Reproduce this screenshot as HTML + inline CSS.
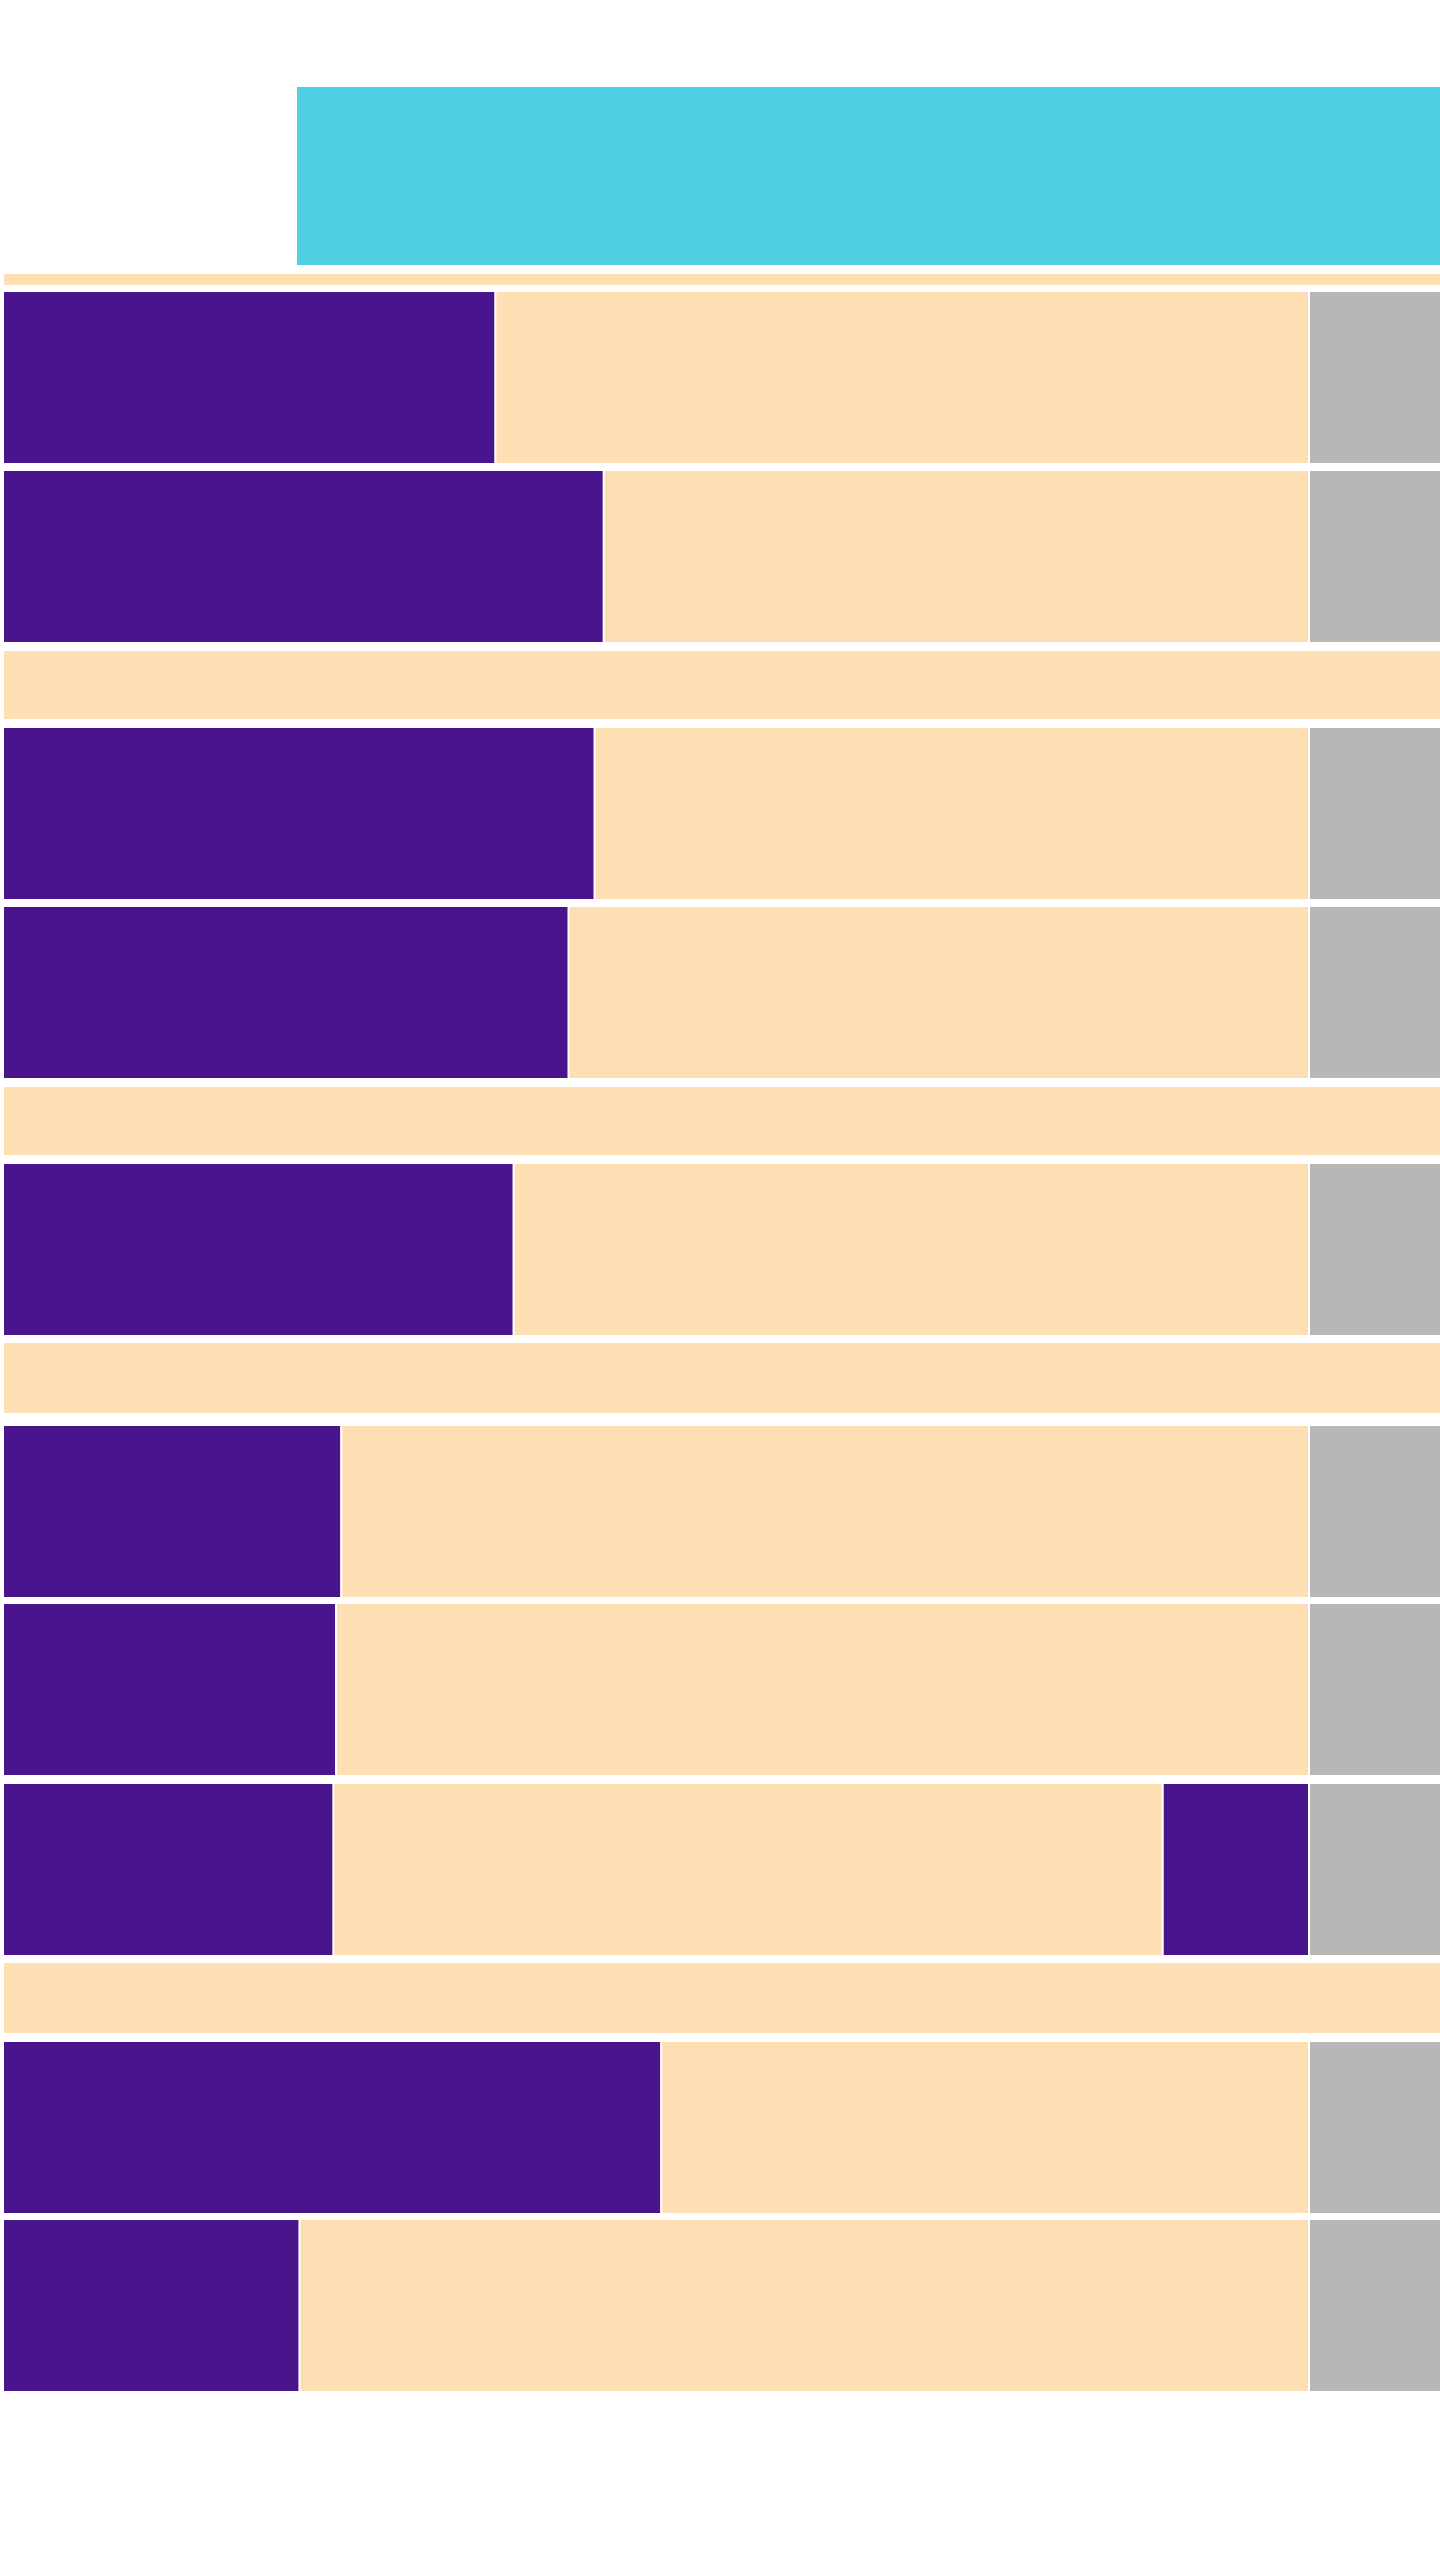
<!DOCTYPE html>
<html><head><meta charset="utf-8"><style>
html,body{margin:0;padding:0;background:#fff;width:1440px;height:2560px;overflow:hidden;font-family:"Liberation Sans",sans-serif}
</style></head><body>
<svg id="chart" width="1440" height="2560" xmlns="http://www.w3.org/2000/svg">
<rect x="297" y="87" width="1143" height="178" fill="#4fd0e2"/>
<g id="cells"></g>
</svg>
<script>
// row types: 'split' rows have purple share, 'band' rows are full peach
const rowKinds = ['band','split','split','band','split','split','band','split','band','split','split','split','band','split','split'];
const rowTops = [273,291,470,650,727,906,1086,1163,1342,1425,1603,1783,1962,2041,2219];
const rowHeights = [13,173,173,70,173,173,70,173,72,173,173,173,72,173,173];
const purpleShare = [0,37.7,46.0,0,45.3,43.3,0,39.1,0,25.9,25.5,25.3,0,50.4,22.7];
const extraPurpleShare = [0,0,0,0,0,0,0,0,0,0,0,11.2,0,0,0];

const X0 = 3, X1 = 1309, XR = 1440;
function xs(v){ return X0 + v/100*(X1-X0); }
const g = document.getElementById('cells');
const NS = 'http://www.w3.org/2000/svg';
function rect(x,y,w,h,fill,name){
  const r = document.createElementNS(NS,'rect');
  r.setAttribute('x',x); r.setAttribute('y',y);
  r.setAttribute('width',Math.max(0,w)); r.setAttribute('height',h);
  r.setAttribute('fill',fill); r.setAttribute('stroke','#fff'); r.setAttribute('stroke-width','2');
  
  
  g.appendChild(r);
}
rowKinds.forEach((k,i)=>{
  const y = rowTops[i], h = rowHeights[i];
  if(k==='band'){ rect(X0,y,XR-X0+2,h,'#fddfb3','band-row-'+i); return; }
  const pe = xs(purpleShare[i]);
  rect(X0,y,pe-X0,h,'#4a148c','purple-cell-'+i);
  const ex = extraPurpleShare[i];
  if(ex>0){
    const es = xs(100-ex);
    rect(pe,y,es-pe,h,'#fddfb3','peach-cell-'+i);
    rect(es,y,X1-es,h,'#4a148c','purple-extra-cell-'+i);
  } else {
    rect(pe,y,X1-pe,h,'#fddfb3','peach-cell-'+i);
  }
  rect(X1,y,XR-X1+2,h,'#b7b7b7','grey-cell-'+i);
});
</script>
</body></html>
